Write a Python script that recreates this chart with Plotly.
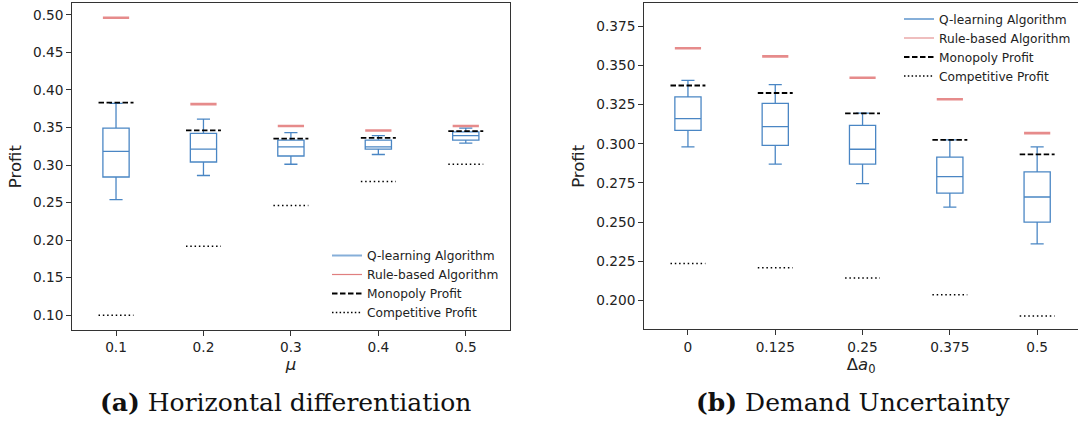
import plotly.graph_objects as go

# ---------------- data ----------------
# (a) Horizontal differentiation
mu_labels = ["0.1", "0.2", "0.3", "0.4", "0.5"]
a_low = [0.254, 0.286, 0.301, 0.314, 0.329]
a_q1 = [0.284, 0.304, 0.312, 0.321, 0.333]
a_med = [0.318, 0.321, 0.324, 0.324, 0.339]
a_q3 = [0.349, 0.342, 0.333, 0.333, 0.344]
a_high = [0.382, 0.361, 0.343, 0.339, 0.349]
a_rule = [0.496, 0.381, 0.352, 0.346, 0.352]
a_monopoly = [0.383, 0.346, 0.335, 0.336, 0.345]
a_competitive = [0.100, 0.192, 0.246, 0.278, 0.301]

# (b) Demand uncertainty
da_labels = ["0", "0.125", "0.25", "0.375", "0.5"]
b_low = [0.298, 0.287, 0.2745, 0.2595, 0.236]
b_q1 = [0.3085, 0.299, 0.287, 0.2685, 0.250]
b_med = [0.316, 0.311, 0.2965, 0.279, 0.266]
b_q3 = [0.330, 0.3258, 0.3118, 0.2915, 0.282]
b_high = [0.3405, 0.3378, 0.3195, 0.3025, 0.298]
b_rule = [0.361, 0.3558, 0.3422, 0.3284, 0.3068]
b_monopoly = [0.3372, 0.3324, 0.3194, 0.3025, 0.2932]
b_competitive = [0.2235, 0.2208, 0.2142, 0.2036, 0.190]

# ---------------- styles ----------------
BLUE = "#4a86c4"
BLUE_LEG = "#86afd9"
RED = "rgba(222,100,100,0.75)"
RED_LEG = "#e07f7f"
AXIS = "#333333"
FONT = "DejaVu Sans"

fig = go.Figure()


def segments(values, half):
    """Horizontal segments centred on each category position."""
    xs, ys = [], []
    for i, v in enumerate(values):
        xs += [i - half, i + half, None]
        ys += [v, v, None]
    return xs, ys


def add_panel(xa, ya, low, q1, med, q3, high, rule, mono, comp, legend):
    pos = list(range(len(med)))
    fig.add_trace(go.Box(
        x=pos, q1=q1, median=med, q3=q3, lowerfence=low, upperfence=high,
        width=0.3, whiskerwidth=0.5, boxpoints=False,
        line=dict(color=BLUE, width=1.3), fillcolor="rgba(0,0,0,0)",
        xaxis=xa, yaxis=ya, showlegend=False, hoverinfo="skip"))
    xs, ys = segments(rule, 0.15)
    fig.add_trace(go.Scatter(x=xs, y=ys, mode="lines", line=dict(color=RED, width=2.6),
                             xaxis=xa, yaxis=ya, showlegend=False, hoverinfo="skip"))
    xs, ys = segments(mono, 0.2)
    fig.add_trace(go.Scatter(x=xs, y=ys, mode="lines",
                             line=dict(color="black", width=1.8, dash="5.5px,2.5px"),
                             xaxis=xa, yaxis=ya, showlegend=False, hoverinfo="skip"))
    xs, ys = segments(comp, 0.2)
    fig.add_trace(go.Scatter(x=xs, y=ys, mode="lines",
                             line=dict(color="black", width=1.5, dash="1.5px,2.8px"),
                             xaxis=xa, yaxis=ya, showlegend=False, hoverinfo="skip"))
    # legend entries
    entries = [
        ("Q-learning Algorithm", dict(color=BLUE_LEG, width=2)),
        ("Rule-based Algorithm", dict(color=RED_LEG, width=1.2)),
        ("Monopoly Profit", dict(color="black", width=1.8, dash="5.5px,2.5px")),
        ("Competitive Profit", dict(color="black", width=1.3, dash="1.5px,2.3px")),
    ]
    for name, ln in entries:
        fig.add_trace(go.Scatter(x=[None], y=[None], mode="lines", name=name, line=ln,
                                 xaxis=xa, yaxis=ya, legend=legend))


add_panel("x", "y", a_low, a_q1, a_med, a_q3, a_high, a_rule, a_monopoly, a_competitive, "legend")
add_panel("x2", "y2", b_low, b_q1, b_med, b_q3, b_high, b_rule, b_monopoly, b_competitive, "legend2")

W, H = 1078, 425
tick_font = dict(family=FONT, size=13.7, color="#222222")
title_font = dict(family=FONT, size=16.5, color="#222222")
axis_common = dict(showline=True, linecolor=AXIS, linewidth=1.1, ticks="outside",
                   ticklen=5, tickwidth=1.1, tickcolor=AXIS, showgrid=False,
                   zeroline=False, tickfont=tick_font)

leg_common = dict(font=dict(family=FONT, size=12.2, color="#222222"), bgcolor="rgba(0,0,0,0)",
                  borderwidth=0, tracegroupgap=0, xanchor="left", yanchor="top",
                  traceorder="normal")

fig.update_layout(
    width=W, height=H, margin=dict(l=0, r=0, t=0, b=0),
    paper_bgcolor="white", plot_bgcolor="white",
    xaxis=dict(domain=[72.3 / W, 509.5 / W], range=[-0.5, 4.5], tickvals=list(range(5)),
               ticktext=mu_labels, mirror=True, anchor="y",
               title=dict(text="<i>μ</i>", font=title_font, standoff=1), **axis_common),
    yaxis=dict(domain=[(H - 330) / H, (H - 3.3) / H], range=[0.0804, 0.5152],
               tickvals=[0.10, 0.15, 0.20, 0.25, 0.30, 0.35, 0.40, 0.45, 0.50],
               tickformat=".2f", mirror=True, anchor="x",
               title=dict(text="Profit", font=title_font, standoff=7), **axis_common),
    xaxis2=dict(domain=[644.3 / W, 1.0], range=[-0.5, -0.5 + (W - 644.3) / 87.3],
                tickvals=list(range(5)), ticktext=da_labels, mirror=True, anchor="y2",
                title=dict(text="Δ<i>a</i><sub>0</sub>", font=title_font, standoff=1),
                **axis_common),
    yaxis2=dict(domain=[(H - 329.3) / H, (H - 3.3) / H], range=[0.1815, 0.3897],
                tickvals=[0.200, 0.225, 0.250, 0.275, 0.300, 0.325, 0.350, 0.375],
                tickformat=".3f", mirror=False, anchor="x2",
                title=dict(text="Profit", font=title_font, standoff=7), **axis_common),
    legend=dict(x=327 / W, y=(H - 241) / H, **leg_common),
    legend2=dict(x=899 / W, y=(H - 4.5) / H, **leg_common),
    annotations=[
        dict(text="<b>(a)</b> Horizontal differentiation", x=285 / W, y=(H - 402) / H,
             xref="paper", yref="paper", showarrow=False, xanchor="center", yanchor="middle",
             font=dict(family="DejaVu Serif", size=25, color="#111111")),
        dict(text="<b>(b)</b> Demand Uncertainty", x=853 / W, y=(H - 402) / H,
             xref="paper", yref="paper", showarrow=False, xanchor="center", yanchor="middle",
             font=dict(family="DejaVu Serif", size=25, color="#111111")),
    ],
)

fig.write_html("out.html")
